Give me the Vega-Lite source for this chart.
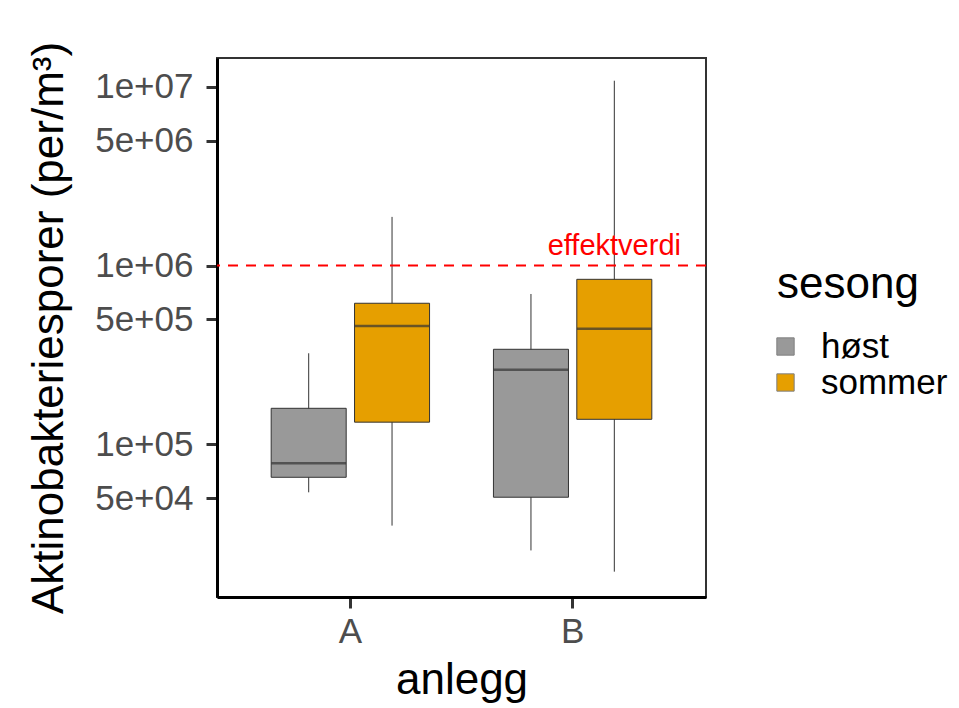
{
  "$schema": "https://vega.github.io/schema/vega-lite/v6.json",
  "width": 489,
  "height": 539,
  "autosize": {"type": "none"},
  "padding": {"left": 217, "top": 58, "right": 253, "bottom": 111},
  "data": {
    "values": [
      {"anlegg": "A", "sesong": "høst", "lower": 53900, "q1": 65400, "median": 78300, "q3": 159000, "upper": 323000},
      {"anlegg": "A", "sesong": "sommer", "lower": 35100, "q1": 133000, "median": 459000, "q3": 615000, "upper": 1870000},
      {"anlegg": "B", "sesong": "høst", "lower": 25500, "q1": 50600, "median": 261000, "q3": 340000, "upper": 693000},
      {"anlegg": "B", "sesong": "sommer", "lower": 19400, "q1": 138000, "median": 443000, "q3": 837000, "upper": 10800000}
    ]
  },
  "layer": [
    {
      "mark": {"type": "rule", "color": "#333333", "strokeWidth": 1},
      "encoding": {
        "x": {
          "field": "anlegg", "type": "nominal",
          "scale": {"paddingInner": 0.25, "paddingOuter": 0.225},
          "title": "anlegg",
          "axis": {
            "labelAngle": 0, "labelFontSize": 35, "labelColor": "#4D4D4D",
            "tickColor": "#333333", "tickWidth": 3, "tickSize": 11, "labelPadding": 6,
            "domainColor": "black", "domainWidth": 3,
            "titleFontSize": 44, "titleFontWeight": "normal", "titleColor": "black", "titlePadding": 9,
            "grid": false
          }
        },
        "xOffset": {"field": "sesong", "type": "nominal", "scale": {"paddingInner": 0.1, "paddingOuter": 0.05}},
        "y": {
          "field": "lower", "type": "quantitative",
          "scale": {"type": "log", "domain": [14000, 14470000], "nice": false},
          "title": "Aktinobakteriesporer (per/m³)",
          "axis": {
            "values": [50000, 100000, 500000, 1000000, 5000000, 10000000],
            "labelExpr": "replace(format(datum.value, '.0e'), 'e+', 'e+0')",
            "grid": false, "labelFontSize": 35, "labelColor": "#4D4D4D",
            "tickColor": "#333333", "tickWidth": 3, "tickSize": 11, "labelPadding": 13,
            "domainColor": "black", "domainWidth": 3,
            "titleFontSize": 44, "titleFontWeight": "normal", "titleColor": "black", "titlePadding": 23
          }
        },
        "y2": {"field": "upper"}
      }
    },
    {
      "mark": {"type": "bar", "stroke": "#333333", "strokeWidth": 1},
      "encoding": {
        "x": {"field": "anlegg", "type": "nominal"},
        "xOffset": {"field": "sesong", "type": "nominal"},
        "y": {"field": "q1", "type": "quantitative"},
        "y2": {"field": "q3"},
        "color": {
          "field": "sesong", "type": "nominal",
          "scale": {"domain": ["høst", "sommer"], "range": ["#999999", "#E69F00"]},
          "legend": {
            "orient": "none", "legendX": 560, "legendY": 205,
            "title": "sesong", "titleFontSize": 44, "titleFontWeight": "normal", "titleColor": "black",
            "labelFontSize": 35, "labelColor": "black",
            "symbolType": "square", "symbolSize": 300, "symbolStrokeColor": "#7F7F7F", "symbolStrokeWidth": 1,
            "symbolOffset": -9,
            "labelOffset": 18, "titlePadding": 22, "rowPadding": -2, "padding": 0
          }
        }
      }
    },
    {
      "mark": {"type": "tick", "color": "#333333", "thickness": 2.5, "size": 74.7, "orient": "horizontal"},
      "encoding": {
        "x": {"field": "anlegg", "type": "nominal"},
        "xOffset": {"field": "sesong", "type": "nominal"},
        "y": {"field": "median", "type": "quantitative"}
      }
    },
    {
      "data": {"values": [{"effekt": 1000000}]},
      "mark": {"type": "rule", "color": "#FF0000", "strokeWidth": 2, "strokeDash": [10, 8]},
      "encoding": {
        "y": {"field": "effekt", "type": "quantitative"}
      }
    },
    {
      "data": {"values": [{"label": "effektverdi", "anlegg": "B", "sesong": "sommer", "yv": 1140000}]},
      "mark": {"type": "text", "color": "#FF0000", "fontSize": 29, "align": "center", "baseline": "alphabetic"},
      "encoding": {
        "x": {"field": "anlegg", "type": "nominal"},
        "xOffset": {"field": "sesong", "type": "nominal"},
        "y": {"field": "yv", "type": "quantitative"},
        "text": {"field": "label"}
      }
    }
  ],
  "config": {
    "font": "Liberation Sans",
    "view": {"stroke": "#333333", "strokeWidth": 2}
  }
}
